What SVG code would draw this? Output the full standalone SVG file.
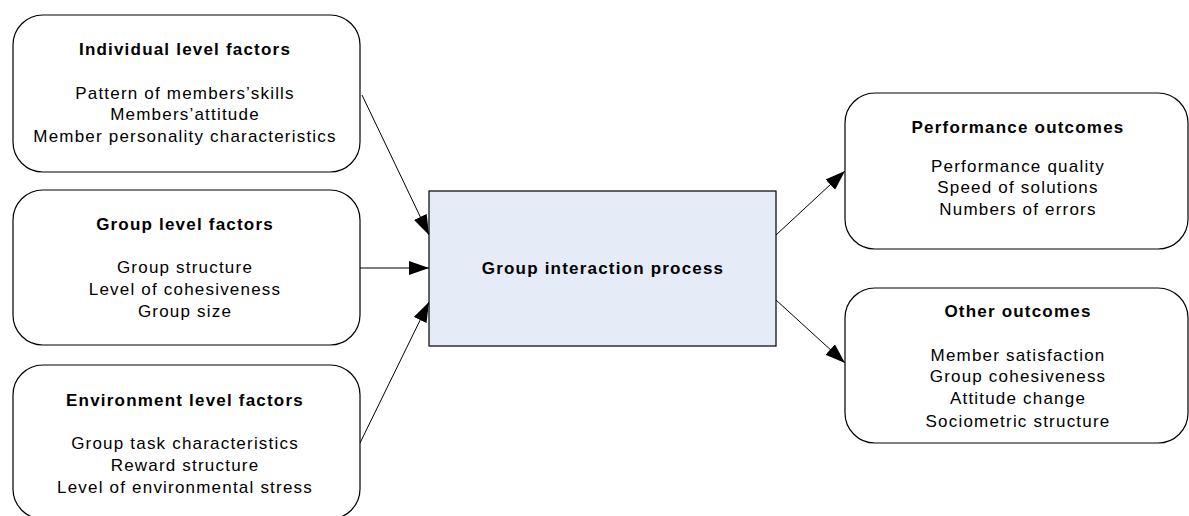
<svg xmlns="http://www.w3.org/2000/svg" width="1189" height="516" viewBox="0 0 1189 516">
<defs>
<style>
.box{fill:#ffffff;stroke:#000000;stroke-width:1.2}
.main{fill:#e6ecf7;stroke:#000000;stroke-width:1.2}
.t{font-family:"Liberation Sans",Arial,sans-serif;font-size:17px;letter-spacing:1.2px;fill:#000000;text-anchor:middle}
.b{font-weight:bold}
.c{stroke:#000000;stroke-width:1;fill:none;marker-end:url(#ah)}
</style>
<marker id="ah" markerUnits="userSpaceOnUse" markerWidth="20" markerHeight="14" refX="20" refY="7" orient="auto">
<path d="M0,0 L20,7 L0,14 Z" fill="#000000"/>
</marker>
</defs>
<rect width="1189" height="516" fill="#ffffff"/>
<g id="connectors">
<line class="c" x1="362" y1="95" x2="429" y2="235"/>
<line class="c" x1="360" y1="268" x2="429" y2="268"/>
<line class="c" x1="360" y1="443" x2="429" y2="302"/>
<line class="c" x1="776" y1="235" x2="845" y2="171"/>
<line class="c" x1="776" y1="300" x2="845" y2="363"/>
</g>
<g id="individual">
<rect class="box" x="13" y="15" width="347" height="157" rx="30" ry="30"/>
<text class="t b" x="185" y="55">Individual level factors</text>
<text class="t" x="185" y="99">Pattern of members’skills</text>
<text class="t" x="185" y="120">Members’attitude</text>
<text class="t" x="185" y="142">Member personality characteristics</text>
</g>
<g id="group">
<rect class="box" x="13" y="190" width="347" height="155" rx="30" ry="30"/>
<text class="t b" x="185" y="230">Group level factors</text>
<text class="t" x="185" y="273">Group structure</text>
<text class="t" x="185" y="295">Level of cohesiveness</text>
<text class="t" x="185" y="317">Group size</text>
</g>
<g id="environment">
<rect class="box" x="13" y="365" width="347" height="154" rx="30" ry="30"/>
<text class="t b" x="185" y="406">Environment level factors</text>
<text class="t" x="185" y="449">Group task characteristics</text>
<text class="t" x="185" y="471">Reward structure</text>
<text class="t" x="185" y="493">Level of environmental stress</text>
</g>
<g id="process">
<rect class="main" x="429" y="191" width="347" height="155"/>
<text class="t b" x="603" y="274">Group interaction process</text>
</g>
<g id="performance">
<rect class="box" x="845" y="93" width="343" height="156" rx="30" ry="30"/>
<text class="t b" x="1018" y="133">Performance outcomes</text>
<text class="t" x="1018" y="172">Performance quality</text>
<text class="t" x="1018" y="193">Speed of solutions</text>
<text class="t" x="1018" y="215">Numbers of errors</text>
</g>
<g id="other">
<rect class="box" x="845" y="288" width="343" height="155" rx="30" ry="30"/>
<text class="t b" x="1018" y="317">Other outcomes</text>
<text class="t" x="1018" y="361">Member satisfaction</text>
<text class="t" x="1018" y="382">Group cohesiveness</text>
<text class="t" x="1018" y="404">Attitude change</text>
<text class="t" x="1018" y="427">Sociometric structure</text>
</g>
</svg>
